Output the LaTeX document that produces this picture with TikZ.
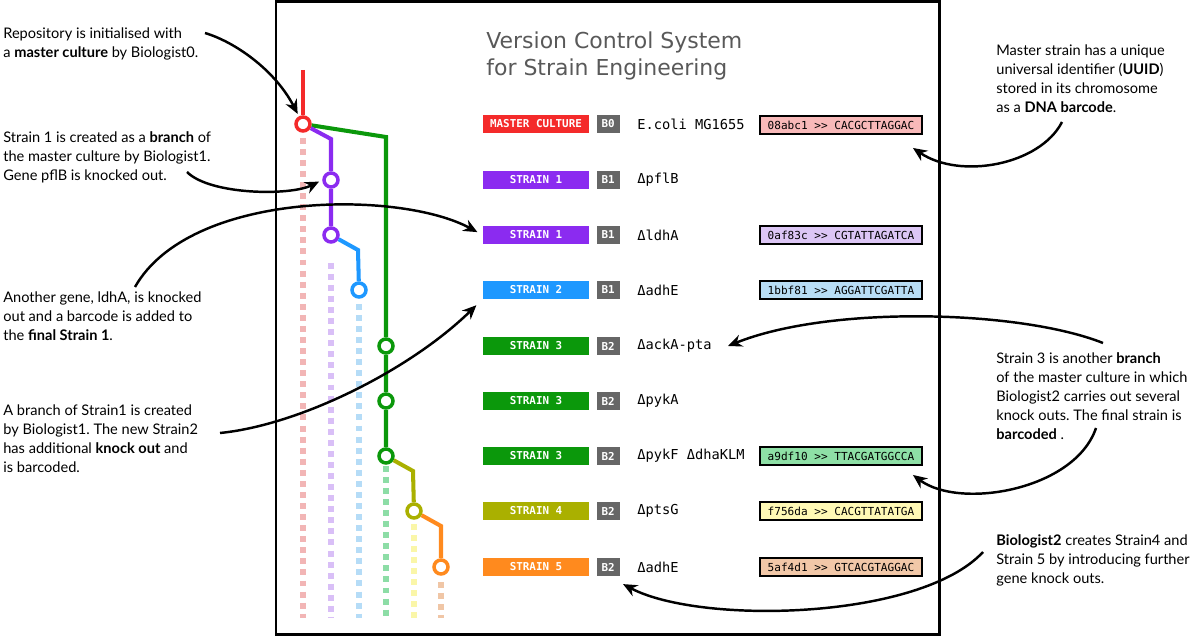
\documentclass[tikz,border=0pt]{standalone}
\usepackage{fontspec}
\setmainfont{Lato}
\setsansfont{DejaVu Sans}
\setmonofont{DejaVu Sans Mono}
\usetikzlibrary{positioning,calc,arrows.meta}

\definecolor{mred}{HTML}{F42A2A}
\definecolor{mpurple}{HTML}{8B2BF0}
\definecolor{mblue}{HTML}{1E98FF}
\definecolor{mgreen}{HTML}{0B980B}
\definecolor{molive}{HTML}{AAB000}
\definecolor{morange}{HTML}{FF8A1E}
\definecolor{gred}{HTML}{F2B5B5}
\definecolor{gpurple}{HTML}{D9BFF7}
\definecolor{gblue}{HTML}{B5DCF7}
\definecolor{ggreen}{HTML}{8DDDA6}
\definecolor{gyellow}{HTML}{FAF6A8}
\definecolor{gorange}{HTML}{F0C6A6}
\definecolor{bred}{HTML}{F8B9B9}
\definecolor{bpurple}{HTML}{DCC6F5}
\definecolor{bblue}{HTML}{B8DDF5}
\definecolor{bgreen}{HTML}{8EE0A6}
\definecolor{byellow}{HTML}{FFF9B5}
\definecolor{borange}{HTML}{F2C8A8}
\definecolor{tagray}{HTML}{666666}
\definecolor{titlegray}{HTML}{595959}

\tikzset{
  commit/.style={circle, draw=#1, fill=white, line width=2pt, minimum size=0.28cm, inner sep=0pt},
  branch/.style={draw=#1, line width=2.3pt},
  ghost/.style={draw=#1, line width=3.4pt, dash pattern=on 3.4pt off 2.9pt},
  tag/.style={fill=#1, text=white, font=\ttfamily\bfseries\fontsize{6.2}{7}\selectfont,
    minimum width=2.12cm, minimum height=0.35cm, inner sep=0pt},
  bnum/.style={fill=tagray, text=white, font=\ttfamily\bfseries\fontsize{6.2}{7}\selectfont,
    minimum width=0.46cm, minimum height=0.35cm, inner sep=0pt, right=0.14cm of #1},
  gene/.style={font=\ttfamily\fontsize{7.8}{9}\selectfont, inner sep=0pt, right=0.34cm of #1},
  barcode/.style={draw=black, line width=1.1pt, fill=#1, font=\ttfamily\fontsize{6.3}{7}\selectfont,
    minimum width=3.24cm, minimum height=0.36cm, inner sep=0pt},
  note/.style={anchor=north west, align=left, inner sep=0pt, font=\fontsize{8.3}{10.8}\selectfont},
  pointer/.style={-{Stealth[length=8pt,width=7pt]}, line width=1.4pt},
}

\begin{document}
\frenchspacing
\begin{tikzpicture}[x=0.02cm, y=-0.02cm]
    \useasboundingbox (0,0) rectangle (1200,638);
    % Frame
    \draw[line width=1.7pt] (276,1.5) rectangle (939,634.5);
    \node[anchor=north west, inner sep=0pt, align=left, text=titlegray,
      font=\sffamily\fontsize{12.5}{15.9}\selectfont] (title) at (486,31)
      {Version Control System\\for Strain Engineering};

    % Commits
    \node[commit=mred] (c0) at (303,124) {};
    \node[commit=mpurple] (c1) at (331,180) {};
    \node[commit=mpurple] (c2) at (331,235) {};
    \node[commit=mblue] (c3) at (359,290) {};
    \node[commit=mgreen] (c4) at (386,346) {};
    \node[commit=mgreen] (c5) at (386,401) {};
    \node[commit=mgreen] (c6) at (386,456) {};
    \node[commit=molive] (c7) at (414,511) {};
    \node[commit=morange] (c8) at (441,567) {};
    \coordinate (root) at (303,70);
    \coordinate (bot) at (0,618);

    % Faded history
    \draw[ghost=gred] ([yshift=-0.1cm]c0.south) -- (c0 |- bot);
    \draw[ghost=gpurple] ([yshift=-0.38cm]c2.south) -- (c2 |- bot);
    \draw[ghost=gblue] ([yshift=-0.1cm]c3.south) -- (c3 |- bot);
    \draw[ghost=ggreen] ([yshift=-0.02cm]c6.south) -- (c6 |- bot);
    \draw[ghost=gyellow] ([yshift=-0.08cm]c7.south) -- (c7 |- bot);
    \draw[ghost=gorange] ([yshift=-0.12cm]c8.south) -- (c8 |- bot);

    % Branches
    \draw[branch=mred] (root) -- (c0);
    \draw[branch=mgreen] (c0) -- (386,137) -- (c4) -- (c5) -- (c6);
    \draw[branch=mpurple] (c0) -- (331,139) -- (c1) -- (c2);
    \draw[branch=mblue] (c2) -- (358,250) -- (c3);
    \draw[branch=molive] (c6) -- (413,471) -- (c7);
    \draw[branch=morange] (c7) -- (441,526) -- (c8);

    % Rows
    \node[tag=mred] (s0) at (536,124) {MASTER CULTURE};
    \node[bnum=s0] (b0) {B0};
    \node[gene=b0] (g0) {E.coli MG1655};
    \node[barcode=bred] (bc0) at (841,125) {08abc1 >> CACGCTTAGGAC};

    \node[tag=mpurple] (s1) at (536,180) {STRAIN 1};
    \node[bnum=s1] (b1) {B1};
    \node[gene=b1] (g1) {ΔpflB};

    \node[tag=mpurple] (s2) at (536,235) {STRAIN 1};
    \node[bnum=s2] (b2) {B1};
    \node[gene=b2] (g2) {ΔldhA};
    \node[barcode=bpurple] (bc2) at (841,235) {0af83c >> CGTATTAGATCA};

    \node[tag=mblue] (s3) at (536,290) {STRAIN 2};
    \node[bnum=s3] (b3) {B1};
    \node[gene=b3] (g3) {ΔadhE};
    \node[barcode=bblue] (bc3) at (841,290) {1bbf81 >> AGGATTCGATTA};

    \node[tag=mgreen] (s4) at (536,346) {STRAIN 3};
    \node[bnum=s4] (b4) {B2};
    \node[gene=b4] (g4) {ΔackA-pta};

    \node[tag=mgreen] (s5) at (536,401) {STRAIN 3};
    \node[bnum=s5] (b5) {B2};
    \node[gene=b5] (g5) {ΔpykA};

    \node[tag=mgreen] (s6) at (536,456) {STRAIN 3};
    \node[bnum=s6] (b6) {B2};
    \node[gene=b6] (g6) {ΔpykF ΔdhaKLM};
    \node[barcode=bgreen] (bc6) at (841,456) {a9df10 >> TTACGATGGCCA};

    \node[tag=molive] (s7) at (536,511) {STRAIN 4};
    \node[bnum=s7] (b7) {B2};
    \node[gene=b7] (g7) {ΔptsG};
    \node[barcode=byellow] (bc7) at (841,511) {f756da >> CACGTTATATGA};

    \node[tag=morange] (s8) at (536,567) {STRAIN 5};
    \node[bnum=s8] (b8) {B2};
    \node[gene=b8] (g8) {ΔadhE};
    \node[barcode=borange] (bc8) at (841,567) {5af4d1 >> GTCACGTAGGAC};

    % Notes
    \node[note] (ann1) at (3,27) {Repository is initialised with\\a \textbf{master culture} by Biologist0.};
    \node[note] (ann2) at (3,131) {Strain 1 is created as a \textbf{branch} of\\the master culture by Biologist1.\\Gene pflB is knocked out.};
    \node[note] (ann3) at (3,291) {Another gene, ldhA, is knocked\\out and a barcode is added to\\the \textbf{final Strain 1}.};
    \node[note] (ann4) at (3,404) {A branch of Strain1 is created\\by Biologist1. The new Strain2\\has additional \textbf{knock out} and\\is barcoded.};
    \node[note] (ann5) at (996,44) {Master strain has a unique\\universal identifier (\textbf{UUID})\\stored in its chromosome\\as a \textbf{DNA barcode}.};
    \node[note] (ann6) at (996,352) {Strain 3 is another \textbf{branch}\\of the master culture in which\\Biologist2 carries out several\\knock outs. The final strain is\\\textbf{barcoded} .};
    \node[note] (ann7) at (996,534) {\textbf{Biologist2} creates Strain4 and\\Strain 5 by introducing further\\gene knock outs.};

    % Pointers
    \draw[pointer, shorten >=1.5pt] ($(ann1.north west)+(202,6)$) .. controls (235,42) and (275,70) .. (c0.118);
    \draw[pointer, shorten >=2pt] ($(ann2.north west)+(184,41)$) .. controls (210,195) and (290,196) .. (c1.west);
    \draw[pointer, shorten >=3.4pt] ($(ann3.north west)+(132,-4)$) .. controls (190,190) and (400,190) .. (s2.west);
    \draw[pointer, shorten >=5pt] ($(ann4.north west)+(217,29)$) .. controls (300,425) and (410,370) .. (s3.south west);
    \draw[pointer] ($(ann5.north west)+(66,78)$) .. controls (1040,165) and (960,180) .. ($(bc0.south east)+(-10,13)$);
    \draw[pointer] ($(ann6.north west)+(107,-9)$) .. controls (1020,310) and (830,305) .. ($(g4.east)+(16,0)$);
    \draw[pointer] ($(ann6.north west)+(100,76)$) .. controls (1075,490) and (960,510) .. ($(bc6.south east)+(-10,9)$);
    \draw[pointer] ($(ann7.north west)+(-13,18)$) .. controls (920,620) and (700,625) .. ($(b8.south east)+(3,8)$);
\end{tikzpicture}
\end{document}
